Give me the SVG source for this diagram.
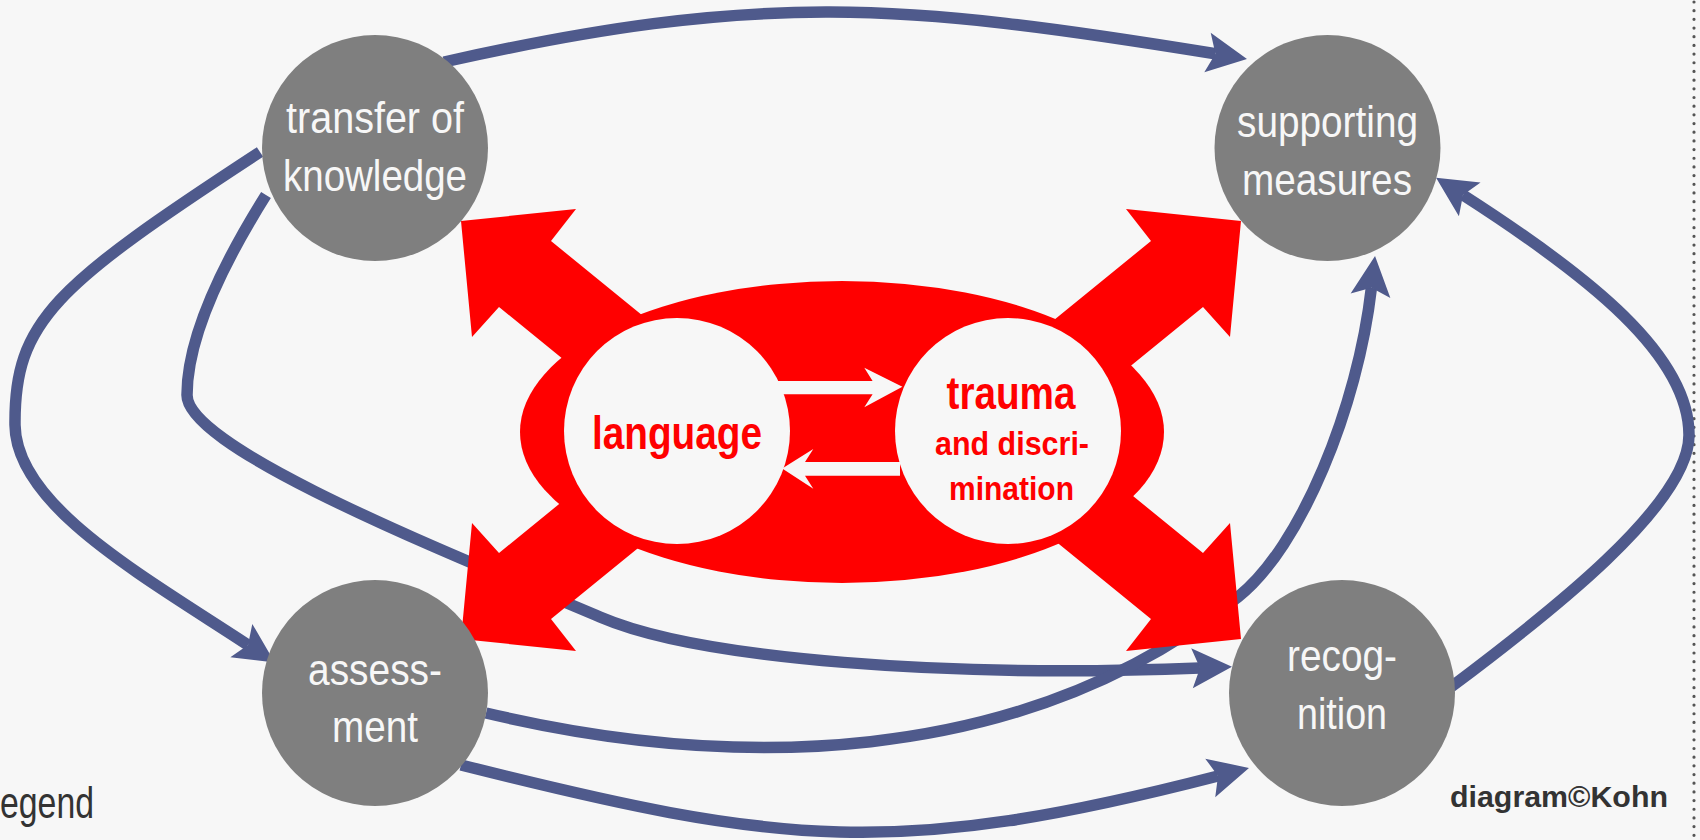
<svg xmlns="http://www.w3.org/2000/svg" width="1700" height="840" viewBox="0 0 1700 840">
<defs>
<style>
.conn{fill:none;stroke:#4F5A8C;stroke-width:11.5;stroke-linecap:butt;marker-end:url(#ah)}
.red{fill:#FF0000}
.hole{fill:#F7F7F7}
.node{fill:#7F7F7F}
.wt{font-family:"Liberation Sans Narrow","Liberation Sans",Arial,sans-serif;font-size:45px;fill:#F7F7F7;text-anchor:middle}
.rt{font-family:"Liberation Sans Narrow","Liberation Sans",Arial,sans-serif;font-weight:bold;fill:#FF0000;text-anchor:middle}
.dk{font-family:"Liberation Sans Narrow","Liberation Sans",Arial,sans-serif;fill:#333333}
</style>
<marker id="ah" viewBox="-10 -22 44 44" refX="0" refY="0" markerWidth="44" markerHeight="44" markerUnits="userSpaceOnUse" orient="auto">
<path d="M32,0 L-8,-20 L0,0 L-8,20 Z" fill="#4F5A8C"/>
</marker>
</defs>
<rect x="0" y="0" width="1700" height="840" fill="#F7F7F7"/>
<line x1="1694" y1="2" x2="1694" y2="840" stroke="#555555" stroke-width="3.2" stroke-linecap="round" stroke-dasharray="0.01 8.67"/>

<g id="connectors">
<path class="conn" d="M444,62 C760,-8.8 900,2.5 1215.4,53.8"/>
<path class="conn" d="M260,152 C55,286 14,321 15,425 C16,505 139.3,573.6 248,645"/>
<path class="conn" d="M266,195 C234,246 187,330 187,395 C187,450 462,558.5 600,617 C700,660 950,678 1200,668"/>
<path class="conn" d="M486,713 C729,770.5 1018,770.6 1238,597 C1300.8,547.4 1357.8,407 1371.4,287.8"/>
<path class="conn" d="M461,765 C783,846 896,859 1218,776"/>
<path class="conn" d="M1451,687 C1547,615 1689,505 1689,435 C1689,355 1589,276 1463,195"/>
</g>

<g id="core">
<ellipse class="red" cx="842" cy="432" rx="322" ry="151"/>
</g>

<g id="red-arrows">
<path class="red" d="M461,221 L576,209 L551,241 L675,342 L623,408 L499,307 L472,337 Z"/>
<path class="red" d="M1241,221 L1126,209 L1151,241 L1027,342 L1079,408 L1203,307 L1230,337 Z"/>
<path class="red" d="M461,639 L576,651 L551,619 L675,518 L623,452 L499,553 L472,523 Z"/>
<path class="red" d="M1241,639 L1126,651 L1151,619 L1027,518 L1079,452 L1203,553 L1230,523 Z"/>
</g>

<g id="node-language">
<circle class="hole" cx="677" cy="431" r="113"/>
<text class="rt" x="677" y="449" font-size="47" textLength="170" lengthAdjust="spacingAndGlyphs">language</text>
</g>

<g id="node-trauma">
<circle class="hole" cx="1008" cy="431" r="113"/>
<text class="rt" x="1011" y="409" font-size="46" textLength="129" lengthAdjust="spacingAndGlyphs">trauma</text>
<text class="rt" x="1012" y="455" font-size="34" textLength="154" lengthAdjust="spacingAndGlyphs">and discri-</text>
<text class="rt" x="1011.5" y="500" font-size="34" textLength="125" lengthAdjust="spacingAndGlyphs">mination</text>
</g>

<g id="inner-arrows">
<path class="hole" d="M775,381 L872.6,381 L864.3,367.7 L902.4,386.7 L864.3,407.3 L872.6,394.3 L775,394.3 Z"/>
<path class="hole" d="M900,462 L805,462 L813.3,449 L782.2,468.5 L813.3,488.7 L805,475.7 L900,475.7 Z"/>
</g>

<g id="node-transfer">
<circle class="node" cx="375" cy="148" r="113"/>
<text class="wt" x="375" y="133" textLength="178" lengthAdjust="spacingAndGlyphs">transfer of</text>
<text class="wt" x="375" y="191" textLength="184" lengthAdjust="spacingAndGlyphs">knowledge</text>
</g>

<g id="node-supporting">
<circle class="node" cx="1327.5" cy="148" r="113"/>
<text class="wt" x="1327.5" y="137" textLength="181" lengthAdjust="spacingAndGlyphs">supporting</text>
<text class="wt" x="1327" y="195" textLength="170" lengthAdjust="spacingAndGlyphs">measures</text>
</g>

<g id="node-assessment">
<circle class="node" cx="375" cy="693" r="113"/>
<text class="wt" x="375" y="685" textLength="134" lengthAdjust="spacingAndGlyphs">assess-</text>
<text class="wt" x="375" y="742" textLength="86" lengthAdjust="spacingAndGlyphs">ment</text>
</g>

<g id="node-recognition">
<circle class="node" cx="1342" cy="693" r="113"/>
<text class="wt" x="1342" y="671" textLength="110" lengthAdjust="spacingAndGlyphs">recog-</text>
<text class="wt" x="1342" y="729" textLength="90" lengthAdjust="spacingAndGlyphs">nition</text>
</g>

<g id="labels">
<text class="dk" x="0" y="818" font-size="45" textLength="94" lengthAdjust="spacingAndGlyphs">egend</text>
<text class="dk" x="1450" y="807" font-size="30" font-weight="bold" textLength="218" lengthAdjust="spacingAndGlyphs">diagram©Kohn</text>
</g>
</svg>
